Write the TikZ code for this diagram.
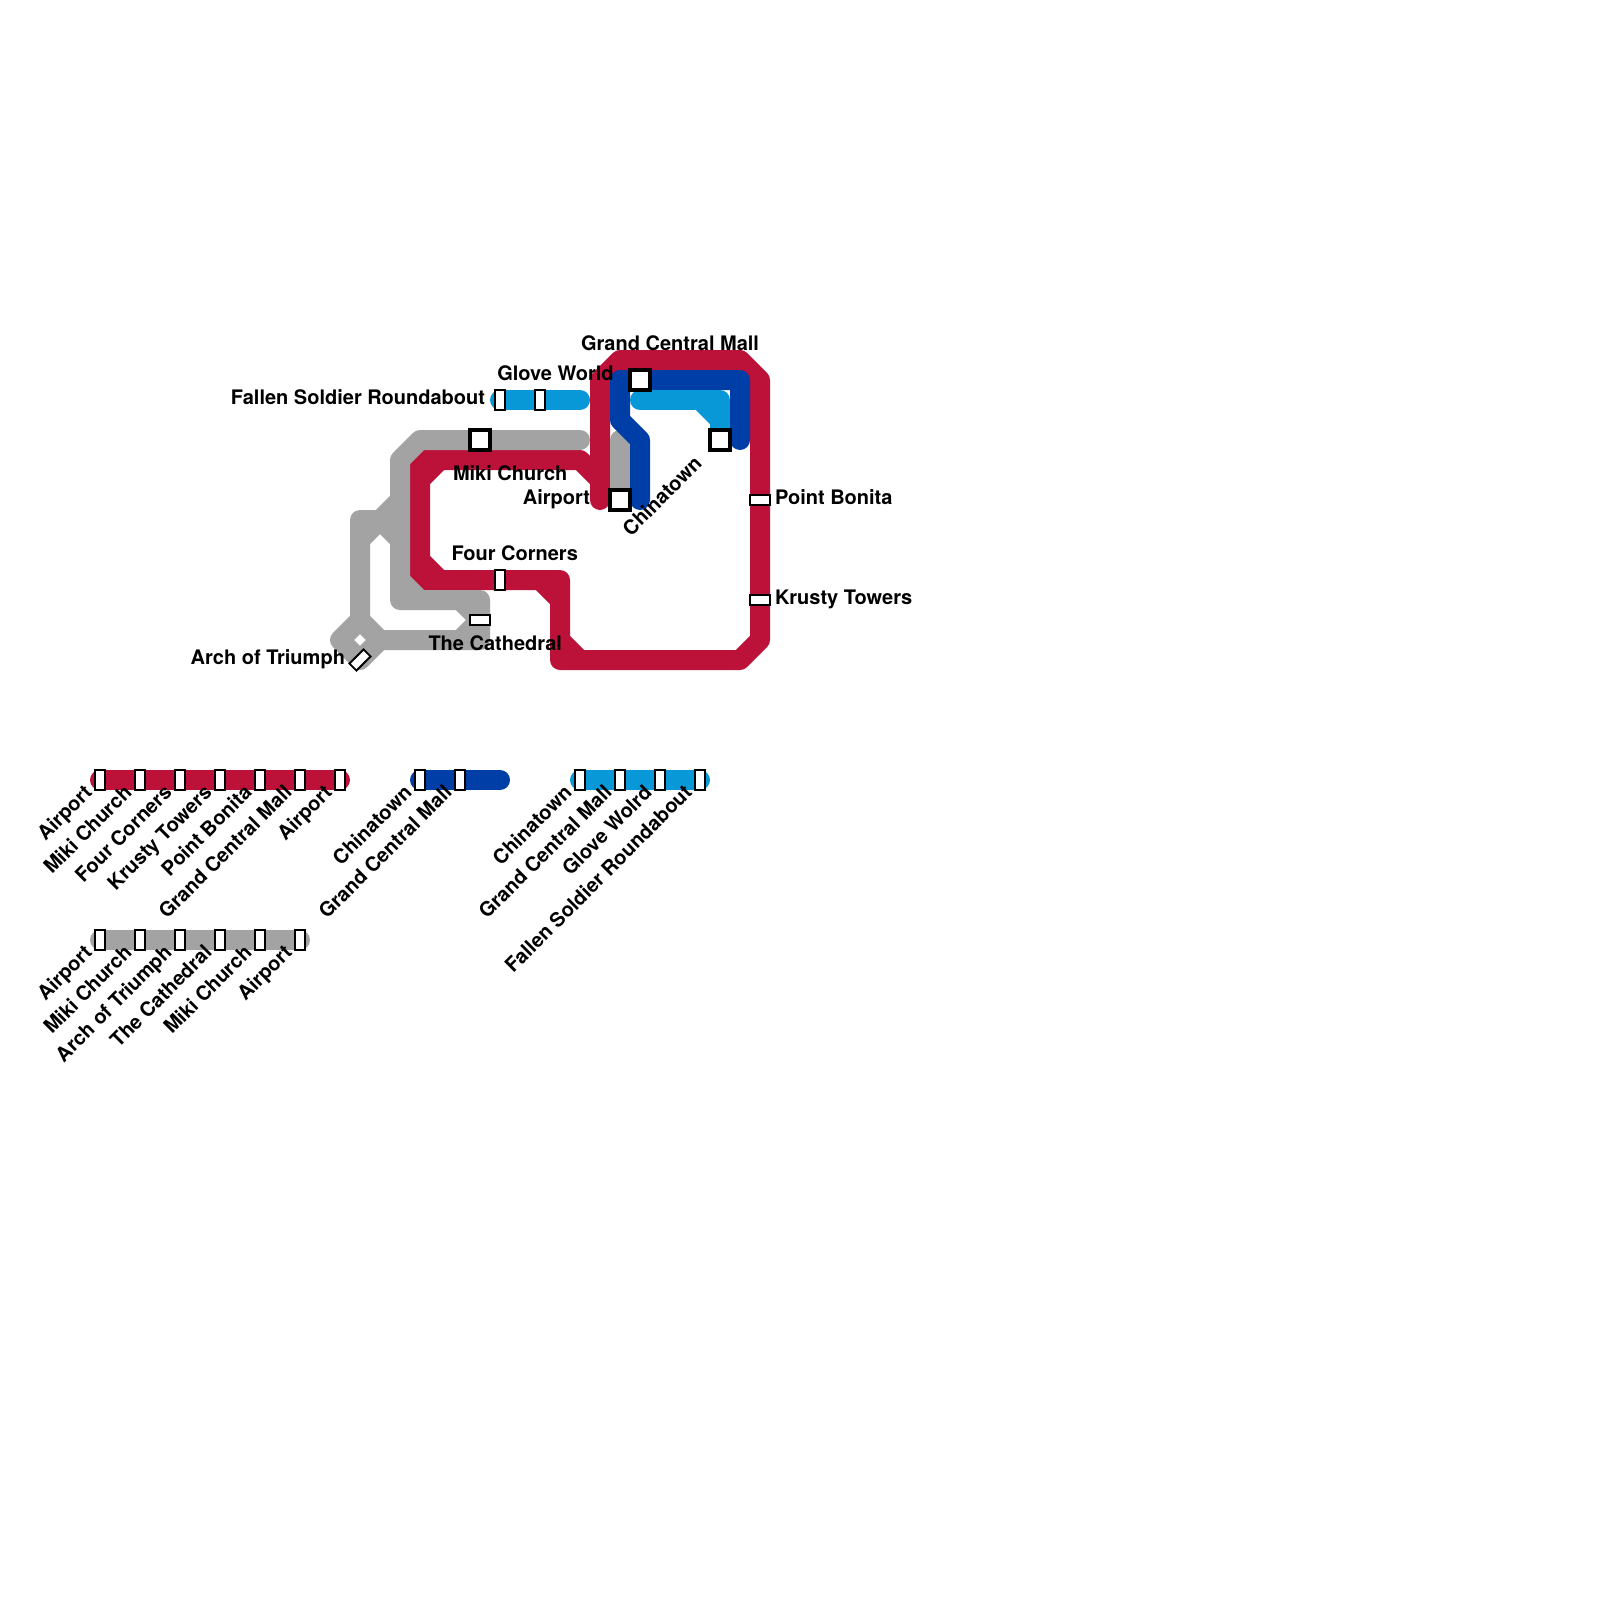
\documentclass[tikz,border=0pt]{standalone}
\usepackage{fontspec}
\setmainfont{TeX Gyre Heros}[BoldFont=* Bold]
\definecolor{lred}{RGB}{188,17,57}
\definecolor{lgray}{RGB}{163,163,163}
\definecolor{lblue}{RGB}{0,62,167}
\definecolor{lsky}{RGB}{9,152,215}
\tikzset{
  route/.style={line width=20pt,line cap=round,line join=round},
  redline/.style={route,draw=lred},
  grayline/.style={route,draw=lgray},
  blueline/.style={route,draw=lblue},
  skyline/.style={route,draw=lsky},
  bigst/.style={draw=black,fill=white,line width=3.4pt,minimum width=20pt,minimum height=20pt,inner sep=0pt,outer sep=0pt},
  smallst/.style={draw=black,fill=white,line width=1.9pt,minimum width=10pt,minimum height=20pt,inner sep=0pt,outer sep=0pt},
  widest/.style={draw=black,fill=white,line width=1.9pt,minimum width=20pt,minimum height=10pt,inner sep=0pt,outer sep=0pt},
  lab/.style={font=\fontsize{20}{24}\selectfont\bfseries,inner sep=0pt,outer sep=0pt,text=black},
  lableft/.style={lab,anchor=base west},
  labright/.style={lab,anchor=base east},
  labdiag/.style={lab,anchor=base east,rotate=45},
}
\begin{document}
\begin{tikzpicture}[x=1pt,y=-1pt]
\useasboundingbox (0,0) rectangle (1600,1600);
% named points on the map
\coordinate (airportM) at (620,500);
\coordinate (mikiM) at (480,440);
\coordinate (gcmM) at (640,380);
\coordinate (glovesq) at (720,440);
\coordinate (fallenM) at (500,400);
\coordinate (gloveM) at (540,400);
\coordinate (fourM) at (500,580);
\coordinate (bonitaM) at (760,500);
\coordinate (krustyM) at (760,600);
\coordinate (cathM) at (480,620);
\coordinate (archM) at (360,660);
% red
\draw[redline] (600,500)--(600,380)--(620,360)--(740,360)--(760,380)--(bonitaM)--(krustyM)--(760,640)--(740,660)--(560,660)--(560,580)--(fourM)--(420,580)--(420,460)--(580,460)--(600,480)--(600,500);
\draw[redline] (560,640)--(580,660);
\draw[redline] (540,580)--(560,600);
\draw[redline] (420,560)--(440,580);
\draw[redline] (420,480)--(440,460);
% gray
\draw[grayline] (580,440)--(mikiM)--(420,440)--(400,460)--(400,600)--(480,600)--(480,640)--(380,640);
\draw[grayline] (400,500)--(380,520)--(360,520)--(360,620);
\draw[grayline] (360,540)--(380,520)--(400,540);
\draw[grayline] (400,580)--(420,600);
\draw[grayline] (460,600)--(cathM)--(460,640);
\draw[grayline] (360,620)--(340,640)--(archM)--(380,640)--cycle;
\draw[grayline] (620,440)--(airportM);
% dark blue
\draw[blueline] (640,500)--(640,440)--(620,420)--(620,380)--(740,380)--(740,440);
% light blue
\draw[skyline] (fallenM)--(580,400);
\draw[skyline] (640,400)--(720,400)--(glovesq);
\draw[skyline] (700,400)--(720,420);
% map stations
\node[bigst] (stMiki) at (mikiM) {};
\node[bigst] (stAirport) at (airportM) {};
\node[bigst] (stGcm) at (gcmM) {};
\node[bigst] (stChina) at (glovesq) {};
\node[smallst] (stFallen) at (fallenM) {};
\node[smallst] (stGlove) at (gloveM) {};
\node[smallst] (stFour) at (fourM) {};
\node[widest] (stBonita) at (bonitaM) {};
\node[widest] (stKrusty) at (krustyM) {};
\node[widest] (stCath) at (cathM) {};
\node[widest,rotate=45] (stArch) at (archM) {};
% map labels
\node[lableft] (tGcm) at (581,350) {Grand Central Mall};
\node[lableft] (tGlove) at (497.3,380) {Glove World};
\node[labright] (tFallen) at (485,404.5) {Fallen Soldier Roundabout};
\node[lableft] (tMiki) at (453,480) {Miki Church};
\node[labright] (tAirport) at (590,504.5) {Airport};
\node[labdiag] (tChina) at (703,465) {Chinatown};
\node[lableft] (tBonita) at (775,504.5) {Point Bonita};
\node[lableft] (tKrusty) at (775,604.5) {Krusty Towers};
\node[lableft] (tFour) at (451.5,560) {Four Corners};
\node[lableft] (tCath) at (428.5,650) {The Cathedral};
\node[labright] (tArch) at (345,664.5) {Arch of Triumph};
% legend lines
\coordinate (rA) at (100,780); \coordinate (rB) at (340,780);
\coordinate (gA) at (100,940); \coordinate (gB) at (300,940);
\coordinate (bA) at (420,780); \coordinate (bB) at (500,780);
\coordinate (sA) at (580,780); \coordinate (sB) at (700,780);
\draw[redline] (rA)--(rB);
\draw[grayline] (gA)--(gB);
\draw[blueline] (bA)--(bB);
\draw[skyline] (sA)--(sB);
% legend stations and labels
\foreach \i/\x/\t in {1/100/Airport,2/140/Miki Church,3/180/Four Corners,4/220/Krusty Towers,5/260/Point Bonita,6/300/Grand Central Mall,7/340/Airport}{
  \node[smallst] (r\i) at (\x,780) {};
  \node[labdiag] (rt\i) at (\x-7,794) {\t};
}
\foreach \i/\x/\t in {1/100/Airport,2/140/Miki Church,3/180/Arch of Triumph,4/220/The Cathedral,5/260/Miki Church,6/300/Airport}{
  \node[smallst] (g\i) at (\x,940) {};
  \node[labdiag] (gt\i) at (\x-7,954) {\t};
}
\foreach \i/\x/\t in {1/420/Chinatown,2/460/Grand Central Mall}{
  \node[smallst] (b\i) at (\x,780) {};
  \node[labdiag] (bt\i) at (\x-7,794) {\t};
}
\foreach \i/\x/\t in {1/580/Chinatown,2/620/Grand Central Mall,3/660/Glove Wolrd,4/700/Fallen Soldier Roundabout}{
  \node[smallst] (s\i) at (\x,780) {};
  \node[labdiag] (st\i) at (\x-7,794) {\t};
}
\end{tikzpicture}
\end{document}
